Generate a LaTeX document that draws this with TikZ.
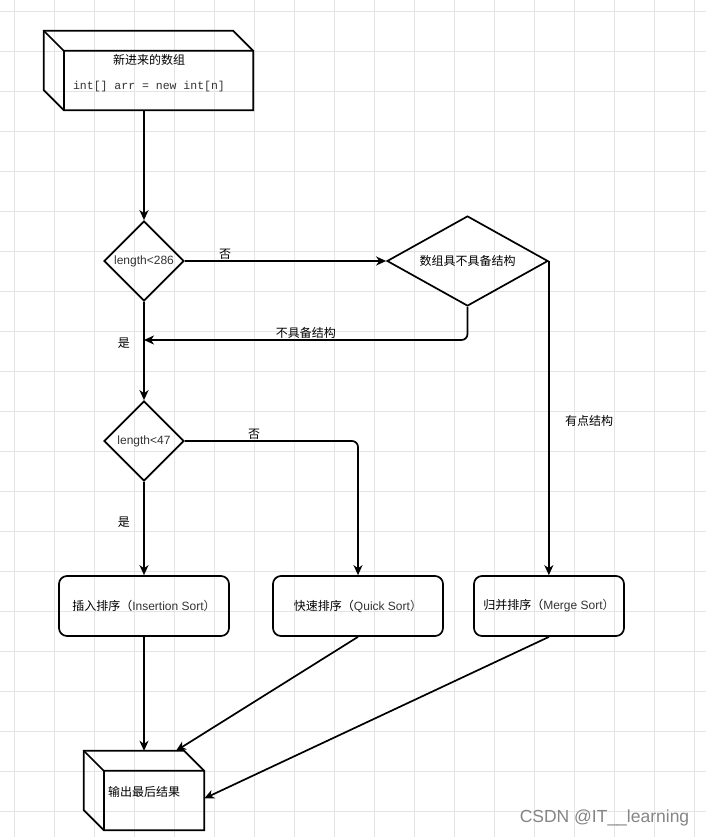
\documentclass[tikz,border=0pt]{standalone}
\usepackage{fontspec}
\setmainfont{Liberation Sans}
\newfontfamily\cjk{Noto Sans CJK SC}
\newfontfamily\codefont{Liberation Mono}
\usepackage{xcolor}
\usetikzlibrary{arrows.meta,shapes.geometric,positioning}

\definecolor{gridgray}{HTML}{E4E4E4}
\definecolor{textgray}{HTML}{333333}
\definecolor{markgray}{HTML}{858585}

\begin{document}
\begin{tikzpicture}[x=1pt,y=-1pt,>={Stealth[length=10pt,width=9pt,inset=3pt]},font=\fontsize{12}{14}\selectfont,
  line/.style={line width=1.7pt,black},
  flow/.style={line,->},
  decision/.style={diamond,draw,line width=1.7pt,inner sep=0pt,text=textgray},
  sortbox/.style={rectangle,draw,line width=1.7pt,rounded corners=8pt,minimum height=60pt,text=textgray},
  cubebox/.style={rectangle,inner sep=0pt,minimum height=79pt},
  edgetext/.style={inner sep=1pt}]

\useasboundingbox (0,0) rectangle (706,837);
\fill[white] (0,0) rectangle (706,837);
% background grid
\foreach \gx in {14,54,...,694}
  \draw[gridgray,line width=0.8pt] (\gx,0) -- (\gx,837);
\foreach \gy in {11,51,...,811}
  \draw[gridgray,line width=0.8pt] (0,\gy) -- (706,\gy);

\node[cubebox,minimum width=209pt] (input) at (148.5,70.5) {};
\node[align=center] (inputtext) at (149,73.5)
  {{\cjk 新进来的数组}\\[11pt]{\codefont\fontsize{11.5}{13}\selectfont\color{textgray}int[] arr = new int[n]}};
\node[decision,minimum width=80pt,minimum height=80pt] (d1) at (144,261) {length<286};
\node[decision,aspect=1.8,minimum width=161pt,minimum height=90pt,text=black] (d2) at (467.5,261) {\cjk 数组具不具备结构};
\node[decision,minimum width=80pt,minimum height=80pt] (d3) at (144,441) {length<47};
\node[sortbox,minimum width=170pt] (ins) at (144,606) {{\cjk\color{black}插入排序（}Insertion Sort{\cjk ）}};
\node[sortbox,minimum width=170pt] (quick) at (358,606) {{\cjk\color{black}快速排序（}Quick Sort{\cjk ）}};
\node[sortbox,minimum width=150pt] (merge) at (549,606) {{\cjk\color{black}归并排序（}Merge Sort{\cjk ）}};
\node[cubebox,minimum width=120pt] (output) at (144,790.5) {};
\node (outputtext) at (144,792) {\cjk 输出最后结果};

% cube outlines
\draw[line,line join=miter] (input.north west) -- ([xshift=-20pt]input.north east) -- ([yshift=-20pt]input.north east)
  -- (input.south east) -- ([xshift=20pt]input.south west) -- ([yshift=20pt]input.south west) -- cycle;
\draw[line] (input.north west) -- ([shift={(20pt,-20pt)}]input.north west) -- ([yshift=-20pt]input.north east);
\draw[line] ([shift={(20pt,-20pt)}]input.north west) -- ([xshift=20pt]input.south west);
\draw[line,line join=miter] (output.north west) -- ([xshift=-20pt]output.north east) -- ([yshift=-20pt]output.north east)
  -- (output.south east) -- ([xshift=20pt]output.south west) -- ([yshift=20pt]output.south west) -- cycle;
\draw[line] (output.north west) -- ([shift={(20pt,-20pt)}]output.north west) -- ([yshift=-20pt]output.north east);
\draw[line] ([shift={(20pt,-20pt)}]output.north west) -- ([xshift=20pt]output.south west);

\coordinate (join1) at (144,340);

\draw[flow] (d1.north |- input.south) -- (d1.north);
\draw[flow] (d1.east) -- (d2.west) node[pos=0.2,above,edgetext] {\cjk 否};
\draw[flow,rounded corners=6pt] (d2.south) |- (join1) node[pos=0.75,above,edgetext] {\cjk 不具备结构};
\draw[flow] (d1.south) -- (d3.north) node[pos=0.42,left=10pt] {\cjk 是};
\draw[flow] (d2.east) -- (d2.east |- merge.north) node[pos=0.51,right=12pt] {\cjk 有点结构};
\draw[flow,rounded corners=6pt] (d3.east) -| (quick.north) node[pos=0.2,above,edgetext] {\cjk 否};
\draw[flow] (d3.south) -- (ins.north) node[pos=0.43,left=10pt] {\cjk 是};
\draw[flow] (ins.south) -- (output.north);
\draw[flow] (quick.south) -- ([xshift=32pt]output.north);
\draw[flow] (merge.south) -- ([yshift=-8pt]output.east);

\node[markgray,font=\fontsize{17.5}{20}\selectfont] (mark) at (604.5,818) {CSDN @IT\_\_learning};
\end{tikzpicture}
\end{document}
